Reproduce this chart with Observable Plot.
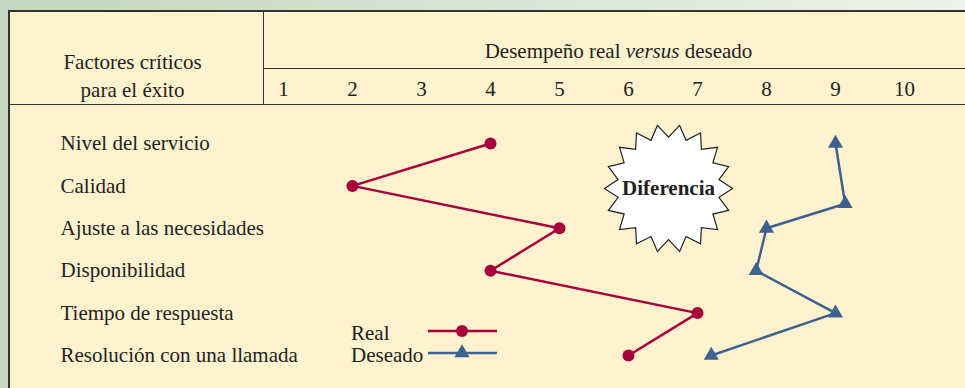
<!DOCTYPE html>
<html>
<head>
<meta charset="utf-8">
<script src="https://cdn.jsdelivr.net/npm/d3@7"></script>
<script src="https://cdn.jsdelivr.net/npm/@observablehq/plot@0.6"></script>
<style>
  body { margin: 0; }
  #root { position: relative; width: 965px; height: 388px; overflow: hidden;
    background: linear-gradient(to right, #c3d6be, #eef2ec);
    font-family: "Liberation Serif", "Times New Roman", serif; color: #231f20; }
  #panel { position: absolute; left: 8px; top: 10px; width: 957px; height: 378px;
    background: #fff2cf; border-left: 2px solid #333; border-top: 2px solid #333; box-sizing: border-box; }
  .hl { position: absolute; height: 0; border-top: 1.5px solid #333; }
  .vl { position: absolute; width: 0; border-left: 1.5px solid #333; }
  .txt { position: absolute; font-size: 21px; line-height: 28px; white-space: nowrap; }
  #chart { position: absolute; left: 8px; top: 10px; }
</style>
</head>
<body>
<div id="root">
  <div id="panel"></div>
  <div class="vl" style="left:263px; top:10px; height:95px;"></div>
  <div class="hl" style="left:263px; top:68px; width:702px;"></div>
  <div class="hl" style="left:8px; top:104px; width:957px;"></div>
  <div class="txt" style="left:5px; width:255px; text-align:center; top:48px;">Factores críticos</div>
  <div class="txt" style="left:5px; width:255px; text-align:center; top:76px;">para el éxito</div>
  <div class="txt" style="left:268px; width:701px; text-align:center; top:37px;">Desempeño real <i>versus</i> deseado</div>
  <div id="chart"></div>
  <div id="legend" style="position:absolute; left:351px; top:318px;"></div>
</div>
<script>
const factors = ["Nivel del servicio", "Calidad", "Ajuste a las necesidades", "Disponibilidad", "Tiempo de respuesta", "Resolución con una llamada"];
const realValues = [4, 2, 5, 4, 7, 6];
const desiredValues = [9, 9.14, 8, 7.85, 9, 7.2];
const desiredRows = [0, 1.42, 2, 3, 4, 5];
const ticks = [1, 2, 3, 4, 5, 6, 7, 8, 9, 10];
const seriesNames = ["Real", "Deseado"];
const calloutLabel = "Diferencia";
const callout = [{x: 6.58, y: 1.06}];

const RED = "#a8003a";
const BLUE = "#3d6290";
const INK = "#231f20";

const real = factors.map((f, i) => ({factor: f, row: i, value: realValues[i]}));
const desired = factors.map((f, i) => ({factor: f, row: desiredRows[i], value: desiredValues[i]}));
const labels = factors.map((f, i) => ({factor: f, row: i}));

const starSymbol = {
  draw(context, size) {
    const R = Math.sqrt(size / Math.PI);
    const r = R * 0.8;
    const n = 18;
    for (let k = 0; k < 2 * n; ++k) {
      const a = (-90 + 10 + k * 10) * Math.PI / 180;
      const rad = k % 2 === 0 ? R : r;
      const px = rad * Math.cos(a), py = rad * Math.sin(a);
      if (k === 0) context.moveTo(px, py); else context.lineTo(px, py);
    }
    context.closePath();
  }
};

const chart = Plot.plot({
  width: 957,
  height: 378,
  marginTop: 95,
  marginLeft: 0,
  marginRight: 0,
  marginBottom: 0,
  style: {background: "transparent", fontFamily: "Liberation Serif, Times New Roman, serif", fontSize: "21px", color: INK},
  x: {domain: [1, 10], range: [275, 896], axis: "top", ticks, tickSize: 0, tickPadding: 10, tickFormat: d => String(d), label: null},
  y: {domain: [0, 5], range: [133, 345], axis: null},
  marks: [
    Plot.text(labels, {y: "row", text: "factor", frameAnchor: "left", dx: 52, textAnchor: "start", fill: INK}),
    Plot.dot(callout, {x: "x", y: "y", r: 64, symbol: starSymbol, fill: "white", stroke: "#222", strokeWidth: 1.2}),
    Plot.text(callout, {x: "x", y: "y", text: () => calloutLabel, fontWeight: "bold", fill: INK}),
    Plot.line(real, {x: "value", y: "row", stroke: RED, strokeWidth: 2.5}),
    Plot.dot(real, {x: "value", y: "row", r: 6, fill: RED}),
    Plot.line(desired, {x: "value", y: "row", stroke: BLUE, strokeWidth: 2.5}),
    Plot.dot(desired, {x: "value", y: "row", r: 5.6, symbol: "triangle", fill: BLUE})
  ]
});
document.getElementById("chart").appendChild(chart);

// Legend
const legend = d3.select("#legend").append("svg").attr("width", 150).attr("height", 50)
  .style("font-family", "Liberation Serif, Times New Roman, serif").style("font-size", "21px").style("overflow", "visible");
const items = [{name: seriesNames[0], color: RED, sym: d3.symbolCircle, size: Math.PI * 36, y: 13},
               {name: seriesNames[1], color: BLUE, sym: d3.symbolTriangle, size: Math.PI * 5.6 * 5.6, y: 35}];
items.forEach(it => {
  legend.append("text").attr("x", 0).attr("y", it.y + 2).attr("dy", "0.35em").attr("fill", INK).text(it.name);
  legend.append("line").attr("x1", 77).attr("x2", 146).attr("y1", it.y).attr("y2", it.y).attr("stroke", it.color).attr("stroke-width", 2.5);
  legend.append("path").attr("transform", `translate(111,${it.y})`).attr("d", d3.symbol(it.sym, it.size)()).attr("fill", it.color);
});
</script>
</body>
</html>
